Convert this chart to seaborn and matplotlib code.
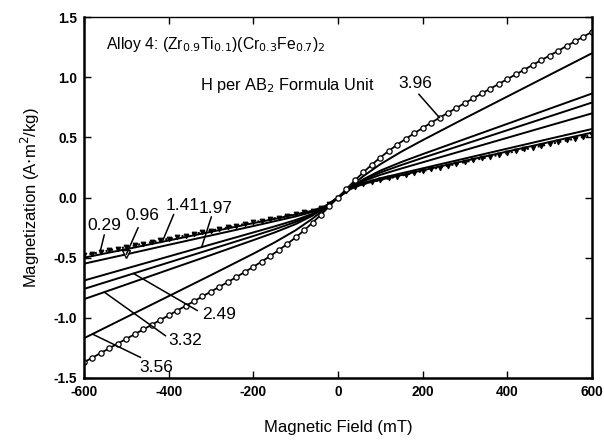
import numpy as np
import pandas as pd
import matplotlib
matplotlib.use("Agg")
import matplotlib.pyplot as plt
import seaborn as sns

# Magnetic field grids (mT)
field_fine = list(range(-600, 601, 20))
field_coarse = [-600, -500, -400, -300, -200, -150, -100, -60, -30, 0,
                30, 60, 100, 150, 200, 300, 400, 500, 600]

# Magnetization (A·m²/kg) for each hydrogen content (H per AB2 formula unit)
m_029 = [-0.480, -0.466, -0.453, -0.439, -0.425, -0.412, -0.398, -0.384, -0.371, -0.357,
         -0.343, -0.330, -0.316, -0.302, -0.289, -0.275, -0.261, -0.248, -0.234, -0.220,
         -0.207, -0.193, -0.179, -0.166, -0.152, -0.138, -0.124, -0.109, -0.088, -0.055,
         0.000,
         0.056, 0.091, 0.113, 0.129, 0.145, 0.160, 0.175, 0.190, 0.205, 0.220,
         0.235, 0.250, 0.265, 0.280, 0.295, 0.310, 0.325, 0.340, 0.355, 0.370,
         0.385, 0.400, 0.415, 0.430, 0.445, 0.460, 0.475, 0.490, 0.505, 0.520]
m_396 = [-1.370, -1.331, -1.292, -1.253, -1.214, -1.175, -1.136, -1.097, -1.058, -1.019,
         -0.980, -0.940, -0.901, -0.862, -0.822, -0.782, -0.742, -0.702, -0.661, -0.619,
         -0.576, -0.532, -0.486, -0.438, -0.386, -0.332, -0.273, -0.209, -0.142, -0.072,
         0.000,
         0.072, 0.143, 0.210, 0.274, 0.333, 0.388, 0.440, 0.488, 0.534, 0.579,
         0.622, 0.664, 0.705, 0.746, 0.786, 0.826, 0.866, 0.906, 0.945, 0.985,
         1.024, 1.063, 1.103, 1.142, 1.181, 1.220, 1.260, 1.299, 1.338, 1.378]
m_096 = [-0.550, -0.472, -0.393, -0.315, -0.237, -0.197, -0.157, -0.119, -0.074, 0.000,
         0.075, 0.121, 0.161, 0.202, 0.243, 0.325, 0.407, 0.489, 0.570]
m_141 = [-0.500, -0.429, -0.357, -0.285, -0.213, -0.178, -0.141, -0.109, -0.070, 0.000,
         0.072, 0.113, 0.148, 0.187, 0.227, 0.305, 0.383, 0.462, 0.540]
m_197 = [-0.690, -0.590, -0.490, -0.390, -0.290, -0.240, -0.187, -0.135, -0.078, 0.000,
         0.079, 0.136, 0.189, 0.242, 0.293, 0.395, 0.497, 0.599, 0.700]
m_249 = [-0.760, -0.650, -0.540, -0.430, -0.320, -0.264, -0.203, -0.142, -0.079, 0.000,
         0.081, 0.145, 0.208, 0.271, 0.330, 0.445, 0.560, 0.675, 0.790]
m_332 = [-0.845, -0.723, -0.600, -0.478, -0.354, -0.291, -0.221, -0.150, -0.081, 0.000,
         0.082, 0.152, 0.224, 0.296, 0.361, 0.487, 0.613, 0.739, 0.865]
m_356 = [-1.170, -0.995, -0.820, -0.645, -0.467, -0.374, -0.272, -0.175, -0.091, 0.000,
         0.093, 0.178, 0.277, 0.382, 0.477, 0.660, 0.840, 1.020, 1.200]

curve_labels = ["0.29", "0.96", "1.41", "1.97", "2.49", "3.32", "3.56", "3.96"]
x_ticks = [-600, -400, -200, 0, 200, 400, 600]
y_ticks = [-1.5, -1.0, -0.5, 0.0, 0.5, 1.0, 1.5]

sns.set_theme(style="ticks")
plt.rcParams["font.family"] = ["Liberation Sans", "DejaVu Sans"]

fig = plt.figure(figsize=(6.04, 4.41), dpi=100)
ax = fig.add_axes([0.139, 0.143, 0.841, 0.818])

solid = {"0.96": m_096, "1.41": m_141, "1.97": m_197, "2.49": m_249,
         "3.32": m_332, "3.56": m_356}
for name, vals in solid.items():
    df = pd.DataFrame({"H": field_coarse, "M": vals})
    extra = {}
    if name == "0.96":
        extra = dict(marker="v", markevery=[1], markersize=6,
                     markerfacecolor="white", markeredgecolor="black",
                     markeredgewidth=1.0)
    sns.lineplot(data=df, x="H", y="M", ax=ax, color="black", lw=1.4,
                 sort=False, **extra)

df029 = pd.DataFrame({"H": field_fine, "M": m_029})
sns.lineplot(data=df029, x="H", y="M", ax=ax, color="black", lw=1.5,
             linestyle=":", marker="v", markersize=3.4,
             markerfacecolor="black", markeredgecolor="black", sort=False)

df396 = pd.DataFrame({"H": field_fine, "M": m_396})
sns.lineplot(data=df396, x="H", y="M", ax=ax, color="black", lw=1.3,
             marker="o", markersize=3.8, markerfacecolor="white",
             markeredgecolor="black", markeredgewidth=0.9, sort=False)

series = {"0.29": (field_fine, m_029), "0.96": (field_coarse, m_096),
          "1.41": (field_coarse, m_141), "1.97": (field_coarse, m_197),
          "2.49": (field_coarse, m_249), "3.32": (field_coarse, m_332),
          "3.56": (field_coarse, m_356), "3.96": (field_fine, m_396)}

# label text position, leader start, field where the leader meets its curve
callouts = {
    "0.29": ((-552, -0.23), (-552, -0.31), -562),
    "0.96": ((-462, -0.15), (-472, -0.25), -500),
    "1.41": ((-368, -0.07), (-388, -0.14), -415),
    "1.97": ((-289, -0.09), (-299, -0.16), -322),
    "2.49": ((-280, -0.97), (-332, -0.94), -483),
    "3.32": ((-361, -1.19), (-407, -1.15), -552),
    "3.56": ((-429, -1.41), (-466, -1.33), -580),
    "3.96": ((182, 0.95), (191, 0.86), 240),
}
for name in curve_labels:
    (tx, ty), (sx, sy), hx = callouts[name]
    xs, ys = series[name]
    ey = float(np.interp(hx, xs, ys))
    ax.plot([sx, hx], [sy, ey], color="black", lw=1.1)
    ax.text(tx, ty, name, ha="center", va="center", fontsize=12.5, color="black")

ax.text(-548, 1.27,
        r"Alloy 4: (Zr$_{0.9}$Ti$_{0.1}$)(Cr$_{0.3}$Fe$_{0.7}$)$_2$",
        ha="left", va="center", fontsize=11.3, color="black")
ax.text(-325, 0.93, r"H per AB$_2$ Formula Unit",
        ha="left", va="center", fontsize=11.8, color="black")

ax.set_xlim(-600, 600)
ax.set_ylim(-1.5, 1.5)
ax.set_xticks(x_ticks)
ax.set_xticklabels([str(v) for v in x_ticks])
ax.set_yticks(y_ticks)
ax.set_yticklabels([f"{v:.1f}" for v in y_ticks])
ax.tick_params(direction="in", length=5, width=1.0, top=True, right=True,
               labelsize=9.8, pad=5, colors="black")
for lbl in ax.get_xticklabels() + ax.get_yticklabels():
    lbl.set_fontweight("bold")

ax.set_xlabel("Magnetic Field (mT)", fontsize=12, color="black", labelpad=15)
ax.set_ylabel(r"Magnetization (A$\cdot$m$^2$/kg)", fontsize=12, color="black",
              labelpad=8)

for side in ["left", "bottom", "right"]:
    ax.spines[side].set_linewidth(1.8)
    ax.spines[side].set_color("black")
ax.spines["top"].set_linewidth(1.0)
ax.spines["top"].set_color("black")

fig.savefig("out.png", dpi=100, facecolor="white")
